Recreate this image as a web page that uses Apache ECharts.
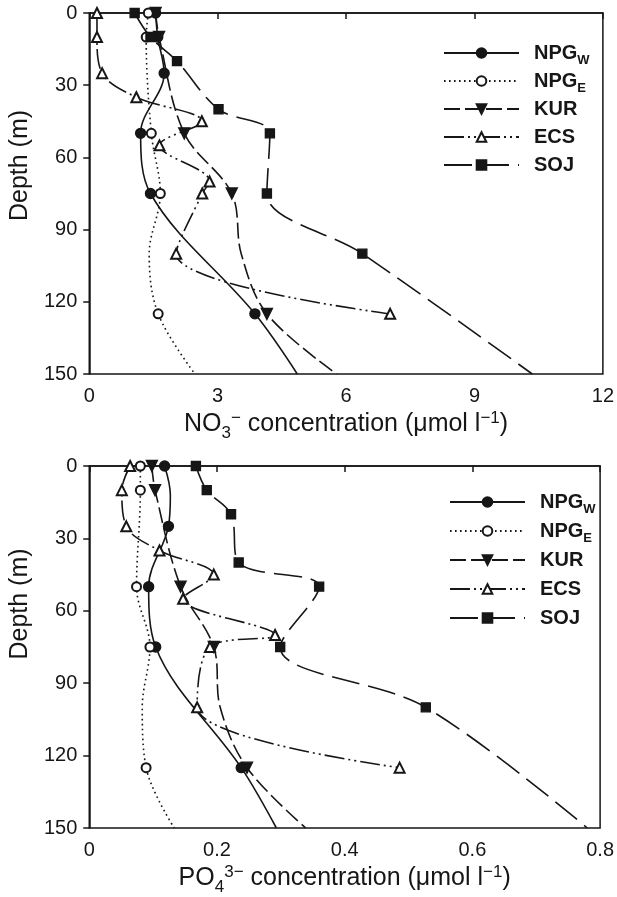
<!DOCTYPE html>
<html>
<head>
<meta charset="utf-8">
<script src="https://cdn.jsdelivr.net/npm/echarts@6.0.0/dist/echarts.min.js"></script>
<style>
  html, body { margin: 0; padding: 0; background: #fff; }
  #chart { width: 617px; height: 897px; }
</style>
</head>
<body>
<div id="chart"></div>
<script>
// station names (legend order)
const stations = ['NPGW', 'NPGE', 'KUR', 'ECS', 'SOJ'];

// ---- NO3 panel: depth (m), concentration (umol/l), 1 = sampled point, 0 = curve only
const no3NpgwDepth = [0, 10, 25, 50, 75, 125, 150];
const no3NpgwConc = [1.55, 1.60, 1.75, 1.20, 1.43, 3.87, 4.86];
const no3NpgwMark = [1, 1, 1, 1, 1, 1, 0];

const no3NpgeDepth = [0, 10, 50, 75, 100, 125, 150];
const no3NpgeConc = [1.38, 1.33, 1.45, 1.66, 1.40, 1.61, 2.47];
const no3NpgeMark = [1, 1, 1, 1, 0, 1, 0];

const no3KurDepth = [0, 10, 50, 75, 100, 125, 150];
const no3KurConc = [1.55, 1.63, 2.22, 3.33, 3.55, 4.15, 5.78];
const no3KurMark = [1, 1, 1, 1, 0, 1, 0];

const no3EcsDepth = [0, 10, 25, 35, 45, 55, 70, 75, 100, 125];
const no3EcsConc = [0.18, 0.18, 0.30, 1.10, 2.63, 1.64, 2.81, 2.64, 2.03, 7.03];
const no3EcsMark = [1, 1, 1, 1, 1, 1, 1, 1, 1, 1];

const no3SojDepth = [0, 10, 20, 40, 50, 75, 100, 150];
const no3SojConc = [1.06, 1.43, 2.05, 3.02, 4.22, 4.15, 6.38, 10.35];
const no3SojMark = [1, 1, 1, 1, 1, 1, 1, 0];

// ---- PO4 panel
const po4NpgwDepth = [0, 12, 25, 50, 75, 125, 150];
const po4NpgwConc = [0.118, 0.127, 0.124, 0.093, 0.104, 0.238, 0.293];
const po4NpgwMark = [1, 0, 1, 1, 1, 1, 0];

const po4NpgeDepth = [0, 10, 50, 75, 100, 125, 150];
const po4NpgeConc = [0.080, 0.080, 0.074, 0.095, 0.083, 0.089, 0.133];
const po4NpgeMark = [1, 1, 1, 1, 0, 1, 0];

const po4KurDepth = [0, 10, 50, 75, 100, 125, 150];
const po4KurConc = [0.098, 0.103, 0.143, 0.195, 0.205, 0.247, 0.339];
const po4KurMark = [1, 1, 1, 1, 0, 1, 0];

const po4EcsDepth = [0, 10, 25, 35, 45, 55, 70, 75, 100, 125];
const po4EcsConc = [0.064, 0.051, 0.058, 0.110, 0.195, 0.147, 0.291, 0.189, 0.169, 0.486];
const po4EcsMark = [1, 1, 1, 1, 1, 1, 1, 1, 1, 1];

const po4SojDepth = [0, 10, 20, 40, 50, 75, 100, 150];
const po4SojConc = [0.167, 0.184, 0.222, 0.234, 0.360, 0.299, 0.527, 0.780];
const po4SojMark = [1, 1, 1, 1, 1, 1, 1, 0];

// axis ticks
const depthTicks = [0, 30, 60, 90, 120, 150];
const no3Ticks = [0, 3, 6, 9, 12];
const po4Ticks = [0, 0.2, 0.4, 0.6, 0.8];

const FONT = "'Liberation Sans', Arial, Helvetica, sans-serif";
const INK = '#161616';

// symbol + dash per station
const look = {
  NPGW: { symbol: 'circle', dash: 'solid', size: 10 },
  NPGE: { symbol: 'emptyCircle', dash: [1.6, 3.4], size: 9 },
  KUR: { symbol: 'path://M0,0L20,0L10,17Z', dash: [16, 5], size: 11 },
  ECS: { symbol: 'emptyTriangle', dash: [20, 4, 2, 4, 2, 4], size: 10 },
  SOJ: { symbol: 'rect', dash: [28, 9], size: 9 },
};

function toData(depth, conc, mark) {
  return depth.map((d, i) => mark[i] ? [conc[i], d] : { value: [conc[i], d], symbol: 'none' });
}

function makeSeries(name, idx, depth, conc, mark) {
  const l = look[name];
  return {
    name: name,
    type: 'line',
    xAxisIndex: idx,
    yAxisIndex: idx,
    data: toData(depth, conc, mark),
    smooth: 0.35,
    symbol: l.symbol,
    symbolSize: l.size,
    showAllSymbol: true,
    lineStyle: { color: INK, width: 1.6, type: l.dash },
    itemStyle: { color: INK, borderColor: INK, borderWidth: 1.4 },
    emphasis: { disabled: true },
  };
}

const series = [
  makeSeries('NPGW', 0, no3NpgwDepth, no3NpgwConc, no3NpgwMark),
  makeSeries('NPGE', 0, no3NpgeDepth, no3NpgeConc, no3NpgeMark),
  makeSeries('KUR', 0, no3KurDepth, no3KurConc, no3KurMark),
  makeSeries('ECS', 0, no3EcsDepth, no3EcsConc, no3EcsMark),
  makeSeries('SOJ', 0, no3SojDepth, no3SojConc, no3SojMark),
  makeSeries('NPGW', 1, po4NpgwDepth, po4NpgwConc, po4NpgwMark),
  makeSeries('NPGE', 1, po4NpgeDepth, po4NpgeConc, po4NpgeMark),
  makeSeries('KUR', 1, po4KurDepth, po4KurConc, po4KurMark),
  makeSeries('ECS', 1, po4EcsDepth, po4EcsConc, po4EcsMark),
  makeSeries('SOJ', 1, po4SojDepth, po4SojConc, po4SojMark),
];

const nameRich = {
  sub: { fontSize: 17, lineHeight: 17, padding: [18, 0, 0, 0], fontFamily: FONT, color: INK },
  sup: { fontSize: 17, lineHeight: 17, padding: [0, 0, 12, 0], fontFamily: FONT, color: INK },
};

function xAxis(idx, ticks, name) {
  return {
    type: 'value',
    gridIndex: idx,
    min: ticks[0],
    max: ticks[ticks.length - 1],
    interval: ticks[1] - ticks[0],
    name: name,
    nameLocation: 'middle',
    nameGap: 29,
    nameTextStyle: { fontSize: 25, lineHeight: 35, fontFamily: FONT, color: INK, rich: nameRich },
    axisLine: { show: true, lineStyle: { color: INK, width: 1.5 } },
    axisTick: { show: true, length: 6, lineStyle: { color: INK, width: 1.5 } },
    axisLabel: { fontSize: 20, margin: 12, color: INK, fontFamily: FONT },
    splitLine: { show: false },
  };
}

function yAxis(idx, shift) {
  return {
    type: 'value',
    gridIndex: idx,
    inverse: true,
    min: depthTicks[0],
    max: depthTicks[depthTicks.length - 1],
    interval: depthTicks[1] - depthTicks[0],
    name: 'Depth (m)',
    nameLocation: 'middle',
    nameGap: 51,
    nameTextStyle: { fontSize: 25, fontFamily: FONT, color: INK, padding: [0, 0, 0, shift] },
    axisLine: { show: true, lineStyle: { color: INK, width: 1.5 } },
    axisTick: { show: true, length: 6, lineStyle: { color: INK, width: 1.5 } },
    axisLabel: { fontSize: 20, margin: 12, color: INK, fontFamily: FONT },
    splitLine: { show: false },
  };
}

function legend(top, left, gap) {
  return {
    data: stations,
    orient: 'vertical',
    top: top,
    left: left,
    itemWidth: 75,
    itemHeight: 12,
    itemGap: gap,
    selectedMode: false,
    formatter: n => n.startsWith('NPG') ? 'NPG{sub|' + n.slice(3) + '}' : n,
    textStyle: {
      fontSize: 20, fontWeight: 'bold', lineHeight: 28, color: INK, fontFamily: FONT, padding: [0, 0, 0, 10],
      rich: { sub: { fontSize: 13, fontWeight: 'bold', lineHeight: 12, padding: [15, 0, 0, 0], color: INK, fontFamily: FONT } },
    },
  };
}

const chart = echarts.init(document.getElementById('chart'), null, { renderer: 'canvas' });
chart.setOption({
  animation: false,
  backgroundColor: '#fff',
  textStyle: { fontFamily: FONT },
  grid: [
    { left: 86, top: 13, width: 521, height: 361, show: true, borderColor: INK, borderWidth: 1.5 },
    { left: 86, top: 466, width: 521, height: 362, show: true, borderColor: INK, borderWidth: 1.5 },
  ],
  legend: [legend(34, 438, 0), legend(483, 444, 1)],
  xAxis: [
    xAxis(0, no3Ticks, 'NO{sub|3}{sup|−} concentration (μmol l{sup|−1})'),
    xAxis(1, po4Ticks, 'PO{sub|4}{sup|3−} concentration (μmol l{sup|−1})'),
  ],
  yAxis: [yAxis(0, 56), yAxis(1, 86)],
  series: series,
});
</script>
</body>
</html>
